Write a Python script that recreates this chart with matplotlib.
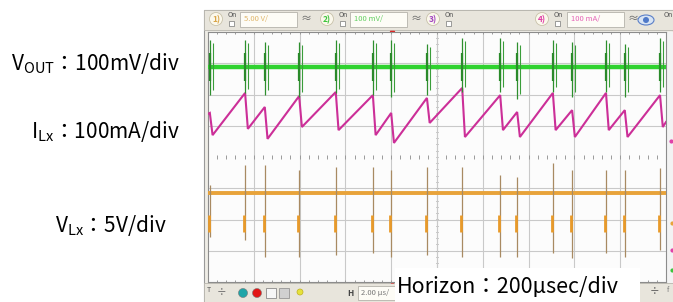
import numpy as np
import matplotlib.pyplot as plt
from matplotlib.patches import Rectangle, Circle, Ellipse

plt.rcParams['font.family'] = ['Noto Sans CJK JP', 'DejaVu Sans']

# switching instants, in divisions (10 div across the screen)
switch_t = [0.04, 0.81, 1.24, 1.99, 2.79, 3.60, 4.00, 4.78, 5.55, 6.38,
            6.75, 7.53, 7.95, 8.69, 9.10, 9.87]

# VOUT (ch2): dc level and ringing extent at each switching (div)
vout_level = 2.88
vout_top = [3.74, 3.74, 3.68, 3.68, 3.74, 3.74, 3.74, 3.62,
            3.80, 3.80, 3.68, 3.74, 3.68, 3.74, 3.62, 3.80]
vout_bottom = [1.98, 2.04, 1.98, 1.92, 2.04, 1.98, 1.92, 1.98,
               2.08, 2.08, 1.86, 2.08, 1.92, 2.08, 1.92, 2.08]

# ILx (ch4): current just before / just after each switching (div)
il_start = 1.38
il_peak = [1.41, 2.05, 1.60, 1.95, 2.08, 1.98, 1.41, 1.89,
           2.21, 1.98, 1.44, 2.05, 1.50, 2.05, 1.50, 1.98]
il_valley = [0.70, 0.90, 0.58, 0.96, 0.86, 0.70, 0.45, 1.09,
             0.64, 0.86, 0.64, 0.86, 0.64, 0.86, 0.64, 0.96]
il_end = 1.12

# VLx (ch1): dc level and spike extent at each switching (div)
vlx_level = -1.15
vlx_top = [-0.90, -0.26, -0.26, -0.42, -0.32, -0.32, -0.42, -0.32,
           -0.32, -0.58, -0.64, -0.19, -0.42, -0.42, -0.42, -0.35]
vlx_bottom = [-2.56, -2.66, -3.20, -3.20, -3.14, -3.07, -3.20, -3.14,
              -3.20, -3.20, -3.20, -3.07, -3.23, -3.07, -3.20, -2.98]

labels = ["$\\mathregular{V_{OUT}}$：100mV/div",
          "$\\mathregular{I_{Lx}}$：100mA/div",
          "$\\mathregular{V_{Lx}}$：5V/div"]
label_xy = [(11, 64), (31, 132), (55, 226)]
horizon_text = "Horizon：200μsec/div"

W, H = 673, 302
fig = plt.figure(figsize=(W / 100, H / 100), dpi=100)

# background axes in pixel coordinates for the scope window chrome
bg = fig.add_axes([0, 0, 1, 1])
bg.set_xlim(0, W)
bg.set_ylim(H, 0)
bg.axis('off')

bg.add_patch(Rectangle((204, 10), 469, 292, fc='#efede6', ec='#9a9a9a', lw=0.8))
bg.add_patch(Rectangle((204, 10), 469, 20, fc='#e8e5dc', ec='#b8b6ae', lw=0.6))
bg.add_patch(Rectangle((204, 283), 469, 19, fc='#e8e5dc', ec='#b8b6ae', lw=0.6))
bg.add_patch(Rectangle((666, 32), 7, 251, fc='#f3f3f3', ec='none'))

# channel widgets on the top bar
chans = [(216, '1)', '#d9a548', '5.00 V/', 240), (327, '2)', '#3cc43c', '100 mV/', 350),
         (433, '3)', '#a040c0', None, None), (542, '4)', '#e040a8', '100 mA/', 567)]
for cx, name, col, setting, bx in chans:
    bg.add_patch(Circle((cx, 19), 6.5, fc='#fbf8ec', ec='#c8c2aa', lw=0.6))
    bg.text(cx, 19.5, name, color=col, fontsize=6, ha='center', va='center',
            fontweight='bold')
    bg.text(cx + 16, 15, 'On', color='#555555', fontsize=5, ha='center', va='center')
    bg.add_patch(Rectangle((cx + 13, 20.5), 5, 5, fc='white', ec='#777777', lw=0.5))
    if setting:
        bg.add_patch(Rectangle((bx, 12), 57, 15, fc='#fdfcf6', ec='#b4b2aa', lw=0.6))
        bg.text(bx + 4, 19.5, setting, color=col, fontsize=5.5, ha='left',
                va='center', alpha=0.8)
        bg.text(bx + 66, 19.5, '≈', color='#666666', fontsize=8, ha='center',
                va='center')
bg.add_patch(Ellipse((646, 20), 16, 10, fc='#d8e4f4', ec='#5a7fc8', lw=0.8))
bg.add_patch(Circle((646, 20), 3, fc='#4f79c8', ec='none'))
bg.text(668, 15, 'On', color='#555555', fontsize=5, ha='center', va='center')

# bottom bar widgets
bg.text(207, 290, 'T', color='#555555', fontsize=5, ha='left', va='center')
bg.text(222, 293, '÷', color='#666666', fontsize=7, ha='center', va='center')
bg.add_patch(Circle((243, 293), 4.5, fc='#1fa5a8', ec='#777777', lw=0.4))
bg.add_patch(Circle((257, 293), 4.5, fc='#e21616', ec='#777777', lw=0.4))
bg.add_patch(Rectangle((266, 288), 10, 10, fc='#f6f6f6', ec='#777777', lw=0.5))
bg.add_patch(Rectangle((279, 288), 10, 10, fc='#d0d0d0', ec='#888888', lw=0.5))
bg.add_patch(Circle((300, 292), 3, fc='#e6e23c', ec='#c0b020', lw=0.5))
bg.text(350, 293, 'H', color='#444444', fontsize=6, ha='center', va='center',
        fontweight='bold')
bg.add_patch(Rectangle((358, 286), 38, 14, fc='#fdfcf6', ec='#b4b2aa', lw=0.6))
bg.text(361, 293, '2.00 µs/', color='#777777', fontsize=5.5, ha='left', va='center')
bg.text(655, 292, '÷', color='#555555', fontsize=7, ha='center', va='center')
bg.text(668, 290, 'f', color='#777777', fontsize=5, ha='center', va='center')

# level markers on the right edge
bg.plot([671], [141], 'o', ms=2, color='#e040a8')
bg.plot([672], [223], 'o', ms=2, color='#e8a33a')
bg.plot([672], [250], 'o', ms=2, color='#e040a8')
bg.plot([672], [270], 'o', ms=2, color='#3cc43c')
bg.plot([392], [33], 'v', ms=3, color='#e02020')
bg.plot([392], [281], '^', ms=2, color='#e02020')

# left side channel labels
for txt, (x, y) in zip(labels, label_xy):
    bg.text(x, y, txt, fontsize=15, ha='left', va='center', color='black')

# scope graticule
ax = fig.add_axes([208 / W, (H - 282) / H, 458 / W, 250 / H])
ax.set_facecolor('#fcfcfc')
ax.set_xlim(0, 10)
ax.set_ylim(-4, 4)
ax.set_xticks([])
ax.set_yticks([])
for s in ax.spines.values():
    s.set_color('#8c8c8c')
    s.set_linewidth(0.8)
for gx in range(1, 10):
    ax.axvline(gx, color='#c9c9c9', lw=0.8, zorder=0)
for gy in [-3, -2, -1, 1, 2, 3]:
    ax.axhline(gy, color='#c9c9c9', lw=0.8, zorder=0)
minor_x = np.arange(0, 10.01, 0.2)
minor_y = np.arange(-4, 4.01, 0.2)
ax.vlines(minor_x, -0.05, 0.05, color='#9a9a9a', lw=0.7, zorder=0)
ax.hlines(minor_y, 4.97, 5.03, color='#9a9a9a', lw=0.7, zorder=0)
ax.axvline(5, color='#c9c9c9', lw=0.8, zorder=0)
ax.vlines(minor_x, 3.93, 4, color='#9a9a9a', lw=0.7, zorder=0)
ax.vlines(minor_x, -4, -3.93, color='#9a9a9a', lw=0.7, zorder=0)

# VOUT trace
ax.hlines(vout_level, 0, 10, color='#2fd22f', lw=3.2, zorder=3)
ax.vlines(switch_t, vout_bottom, vout_top, color='#2e8f2e', lw=0.9, zorder=4)
ax.vlines(np.array(switch_t) + 0.06, np.array(vout_bottom) + 0.15,
          np.array(vout_top) - 0.1, color='#3a9e3a', lw=0.8, zorder=4)
ax.vlines(switch_t, vout_level - 0.45, vout_level + 0.45, color='#2a8a2a',
          lw=1.6, zorder=4)

# ILx trace: linear rise, fast fall at each switching
il_t = [0]
il_y = [il_start]
for t, pk, vl in zip(switch_t, il_peak, il_valley):
    il_t += [t, t + 0.06]
    il_y += [pk, vl]
il_t.append(10)
il_y.append(il_end)
ax.plot(il_t, il_y, color='#cc2f98', lw=1.5, zorder=3, solid_joinstyle='miter')

# VLx trace
ax.hlines(vlx_level, 0, 10, color='#e8a33a', lw=2.8, zorder=3)
ax.vlines(switch_t, vlx_bottom, vlx_top, color='#a88a62', lw=0.9, zorder=4)
ax.vlines(np.array(switch_t) - 0.02, -2.4, -1.85, color='#e89a2a', lw=2.0, zorder=4)

# overlay note box
ov = fig.add_axes([0, 0, 1, 1], zorder=5)
ov.set_xlim(0, W)
ov.set_ylim(H, 0)
ov.axis('off')
ov.patch.set_alpha(0)
ov.add_patch(Rectangle((395, 268), 245, 34, fc='white', ec='none'))
ov.text(397, 287, horizon_text, fontsize=15.5, ha='left', va='center', color='black')

fig.savefig('out.png', dpi=100)
